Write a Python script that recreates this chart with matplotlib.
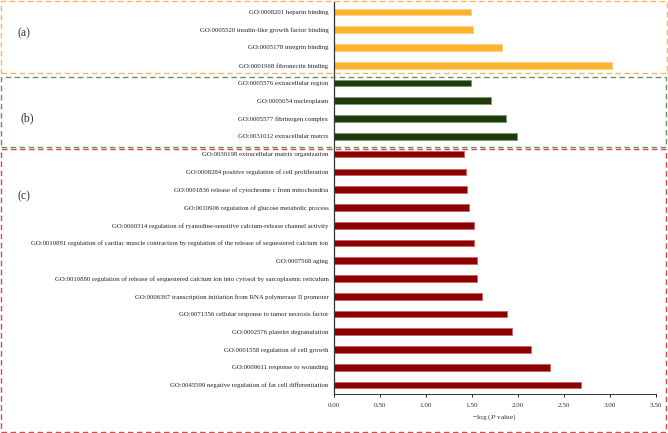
import matplotlib
matplotlib.use("Agg")
import matplotlib.pyplot as plt
from matplotlib.patches import Rectangle

plt.rcParams["font.family"] = ["Liberation Serif", "DejaVu Serif"]
plt.rcParams["mathtext.fontset"] = "custom"
plt.rcParams["mathtext.rm"] = "Liberation Serif"
plt.rcParams["mathtext.it"] = "Liberation Serif:italic"

# ============================================================
# DATA
# ============================================================

mf_terms = [
    "GO:0008201 heparin binding",
    "GO:0005520 insulin-like growth factor binding",
    "GO:0005178 integrin binding",
    "GO:0001968 fibronectin binding",
]
mf_values = [1.49, 1.51, 1.83, 3.02]

cc_terms = [
    "GO:0005576 extracellular region",
    "GO:0005654 nucleoplasm",
    "GO:0005577 fibrinogen complex",
    "GO:0031012 extracellular matrix",
]
cc_values = [1.49, 1.71, 1.87, 1.99]

bp_terms = [
    "GO:0030198 extracellular matrix organization",
    "GO:0008284 positive regulation of cell proliferation",
    "GO:0001836 release of cytochrome c from mitochondria",
    "GO:0010906 regulation of glucose metabolic process",
    "GO:0060314 regulation of ryanodine-sensitive calcium-release channel activity",
    "GO:0010881 regulation of cardiac muscle contraction by regulation of the release of sequestered calcium ion",
    "GO:0007568 aging",
    "GO:0010880 regulation of release of sequestered calcium ion into cytosol by sarcoplasmic reticulum",
    "GO:0006367 transcription initiation from RNA polymerase II promoter",
    "GO:0071356 cellular response to tumor necrosis factor",
    "GO:0002576 platelet degranulation",
    "GO:0001558 regulation of cell growth",
    "GO:0009611 response to wounding",
    "GO:0045599 negative regulation of fat cell differentiation",
]
bp_values = [1.41, 1.43, 1.45, 1.47, 1.52, 1.52, 1.55, 1.55,
             1.61, 1.88, 1.93, 2.14, 2.35, 2.69]

x_ticks = [0.0, 0.5, 1.0, 1.5, 2.0, 2.5, 3.0, 3.5]

# ============================================================
# PLOT
# ============================================================

W, H = 668, 433
fig = plt.figure(figsize=(W / 100, H / 100), dpi=100)


def fx(px):
    return px / W


def fy(py):
    return 1 - py / H


ax = fig.add_axes([fx(334), fy(394), fx(656) - fx(334), fy(2) - fy(394)])

groups = [
    (mf_terms, mf_values, "#FDB22B", "#FCD080"),
    (cc_terms, cc_values, "#1E3B0C", "#7D9870"),
    (bp_terms, bp_values, "#8B0000", "#D06060"),
]

all_terms = []
pos = 0
for terms, values, color, edge in groups:
    ys = list(range(pos, pos + len(terms)))
    ax.barh(ys, values, height=0.38, color=color, edgecolor=edge, linewidth=0.6)
    all_terms += terms
    pos += len(terms)

ax.set_yticks(range(len(all_terms)))
ax.set_yticklabels(all_terms, fontsize=4.9, color="#222222")
ax.set_ylim(21.5, -0.56)
ax.set_xlim(0, 3.5)
ax.set_xticks(x_ticks)
ax.set_xticklabels([f"{t:.2f}" for t in x_ticks], fontsize=5.1, color="#333333")
ax.tick_params(axis="y", length=0, pad=4)
ax.tick_params(axis="x", length=2.5, width=0.6, pad=4, direction="out")
ax.spines["top"].set_visible(False)
ax.spines["right"].set_visible(False)
ax.spines["left"].set_color("#333333")
ax.spines["bottom"].set_color("#333333")
ax.spines["left"].set_linewidth(0.9)
ax.spines["bottom"].set_linewidth(0.7)
ax.set_xlabel(r"−log ($P$ value)", fontsize=5.4, labelpad=3, color="#333333")

# dashed panel boxes
boxes = [
    (1, 1, 667, 73, "#F8B664"),
    (1, 77, 666, 147, "#6E8F60"),
    (1, 149, 666, 432, "#C8504C"),
]
for x0, y0, x1, y1, c in boxes:
    fig.patches.append(Rectangle((fx(x0), fy(y1)), fx(x1) - fx(x0), fy(y0) - fy(y1),
                                 transform=fig.transFigure, fill=False,
                                 edgecolor=c, linestyle=(0, (4, 2.5)), linewidth=1.0))

for label, px, py in [("(a)", 24, 33), ("(b)", 27, 118), ("(c)", 24, 196)]:
    fig.text(fx(px), fy(py), label, fontsize=8.5, ha="center", va="center", color="#333333")

fig.savefig("out.png", dpi=100)
